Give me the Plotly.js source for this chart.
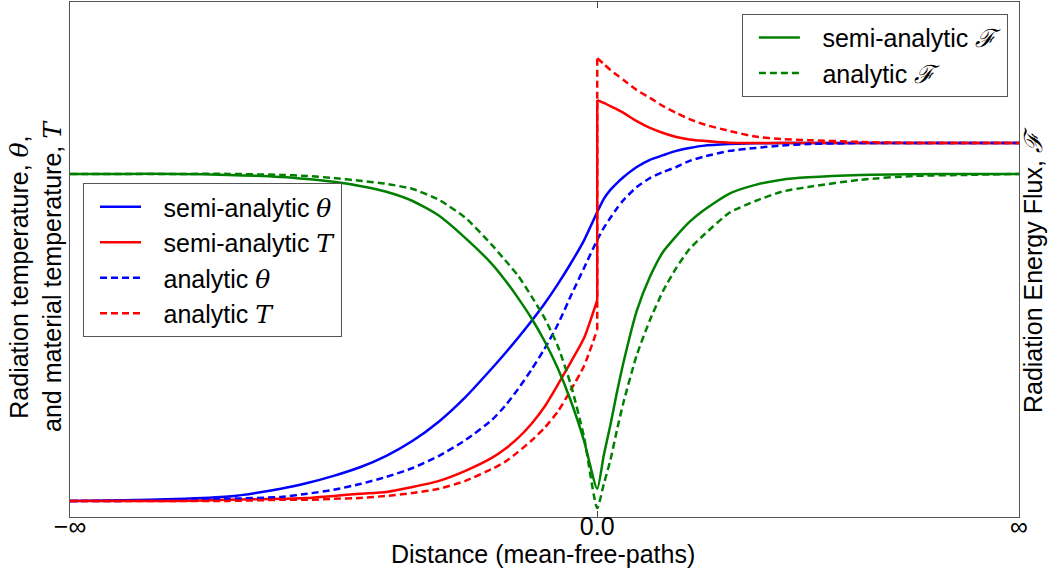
<!DOCTYPE html>
<html>
<head>
<meta charset="utf-8">
<script src="https://cdn.plot.ly/plotly-3.0.1.min.js"></script>
<style>html,body{margin:0;padding:0;background:#fff;}#chart{width:1053px;height:573px;}</style>
</head>
<body>
<div id="chart"></div>
<script>
// Distance grid (mean-free-paths); -5 and 4 are drawn as -inf and +inf
const xLeft  = [-5, -4.5, -4, -3.5, -3, -2.75, -2.5, -2.25, -2, -1.75, -1.5, -1.25, -1, -0.875, -0.75, -0.625, -0.5, -0.375, -0.25, -0.125, 0];
const xRight = [0, 0.0625, 0.125, 0.1875, 0.25, 0.375, 0.5, 0.625, 0.75, 0.875, 1, 1.25, 1.5, 1.75, 2, 2.5, 3, 3.5, 4];

// Radiation temperature theta (semi-analytic / analytic)
const thetaSemiLeft  = [1.000, 1.002, 1.005, 1.012, 1.034, 1.050, 1.070, 1.094, 1.126, 1.168, 1.222, 1.290, 1.370, 1.412, 1.456, 1.502, 1.551, 1.605, 1.664, 1.728, 1.807];
const thetaSemiRight = [1.807, 1.844, 1.869, 1.888, 1.905, 1.933, 1.953, 1.966, 1.978, 1.986, 1.992, 1.997, 1.999, 2.0, 2.0, 2.0, 2.0, 2.0, 2.0];
const thetaAnaLeft   = [1.000, 1.000, 1.003, 1.006, 1.011, 1.020, 1.031, 1.047, 1.067, 1.092, 1.126, 1.170, 1.226, 1.265, 1.313, 1.366, 1.425, 1.492, 1.573, 1.651, 1.729];
const thetaAnaRight  = [1.729, 1.763, 1.791, 1.818, 1.841, 1.877, 1.902, 1.919, 1.933, 1.950, 1.961, 1.978, 1.986, 1.993, 1.997, 2.0, 2.0, 2.0, 2.0];

// Material temperature T (jump at x = 0)
const tSemiLeft  = [1.000, 1.000, 1.000, 1.003, 1.006, 1.008, 1.014, 1.020, 1.025, 1.039, 1.056, 1.084, 1.120, 1.145, 1.176, 1.215, 1.263, 1.324, 1.388, 1.455, 1.561];
const tSemiRight = [2.120, 2.112, 2.103, 2.094, 2.084, 2.061, 2.042, 2.028, 2.017, 2.010, 2.006, 2.001, 2.0, 2.0, 2.0, 2.0, 2.0, 2.0, 2.0];
const tAnaLeft   = [1.000, 1.000, 1.000, 1.000, 1.003, 1.003, 1.006, 1.008, 1.014, 1.022, 1.034, 1.056, 1.089, 1.109, 1.137, 1.168, 1.204, 1.249, 1.310, 1.377, 1.478];
const tAnaRight  = [2.237, 2.221, 2.204, 2.190, 2.176, 2.148, 2.126, 2.103, 2.084, 2.067, 2.053, 2.034, 2.018, 2.011, 2.008, 2.003, 2.0, 2.0, 2.0];

// Radiation energy flux F (right axis)
const fluxSemiLeft  = [1.000, 1.000, 1.000, 0.997, 0.991, 0.985, 0.977, 0.965, 0.948, 0.921, 0.878, 0.813, 0.738, 0.691, 0.638, 0.580, 0.513, 0.434, 0.338, 0.222, 0.082];
const fluxSemiRight = [0.082, 0.181, 0.268, 0.364, 0.452, 0.601, 0.700, 0.773, 0.819, 0.860, 0.892, 0.942, 0.968, 0.983, 0.990, 0.997, 0.999, 1.0, 1.0];
const fluxAnaLeft   = [1.000, 1.000, 1.000, 1.000, 0.997, 0.994, 0.988, 0.980, 0.971, 0.956, 0.924, 0.872, 0.793, 0.749, 0.703, 0.644, 0.580, 0.499, 0.385, 0.233, 0.026];
const fluxAnaRight  = [0.026, 0.096, 0.166, 0.254, 0.335, 0.472, 0.574, 0.659, 0.726, 0.781, 0.819, 0.886, 0.921, 0.948, 0.962, 0.983, 0.994, 0.997, 1.0];

const xTickVals = [-5, 0, 4];
const xTickText = ["\u2212\u221E", "0.0", "\u221E"];

const FONT = "Liberation Sans, Arial, Helvetica, sans-serif";
const FS = 25;
const MATH = (s) => '<span style="font-family:\'DejaVu Serif\',serif"><i>' + s + '</i></span>';
const PAD = "\u2002\u2009";
const DASH = "7px,4px";
const BLUE = "#0000ff", RED = "#ff0000", GREEN = "#008000";

function base(name, x, y, color, dash, axis, legend, grp, show, shape) {
  return {
    x: x, y: y, type: "scatter", mode: "lines", name: name,
    line: {color: color, width: 2.5, dash: dash, shape: shape, smoothing: 0.6},
    yaxis: axis, legend: legend, legendgroup: grp, showlegend: show, hoverinfo: "skip"
  };
}
// continuous curve: join the halves (drop the repeated x = 0 point)
function cont(name, yl, yr, color, dash, axis, legend, grp) {
  return [base(name, xLeft.concat(xRight.slice(1)), yl.concat(yr.slice(1)), color, dash, axis, legend, grp, true, "spline")];
}
// curve with a jump at x = 0: left half, vertical jump, right half
function jump(name, yl, yr, color, dash, axis, legend, grp) {
  return [
    base(name, xLeft, yl, color, dash, axis, legend, grp, true, "spline"),
    base(name, [xLeft[xLeft.length - 1], xRight[0]], [yl[yl.length - 1], yr[0]], color, dash, axis, legend, grp, false, "linear"),
    base(name, xRight, yr, color, dash, axis, legend, grp, false, "spline")
  ];
}

const data = [].concat(
  cont(PAD + "semi-analytic " + MATH("θ"), thetaSemiLeft, thetaSemiRight, BLUE, "solid", "y", "legend", "a"),
  jump(PAD + "semi-analytic " + MATH("T"), tSemiLeft, tSemiRight, RED, "solid", "y", "legend", "b"),
  cont(PAD + "analytic " + MATH("θ"), thetaAnaLeft, thetaAnaRight, BLUE, DASH, "y", "legend", "c"),
  jump(PAD + "analytic " + MATH("T"), tAnaLeft, tAnaRight, RED, DASH, "y", "legend", "d"),
  cont(PAD + "semi-analytic " + MATH("ℱ"), fluxSemiLeft, fluxSemiRight, GREEN, "solid", "y2", "legend2", "e"),
  cont(PAD + "analytic " + MATH("ℱ"), fluxAnaLeft, fluxAnaRight, GREEN, DASH, "y2", "legend2", "f")
);

const xTitle = "Distance (mean-free-paths)";
const yTitle = "Radiation temperature, " + MATH("θ") + ",<br>and material temperature, " + MATH("T");
const y2Title = "Radiation Energy Flux, " + MATH("ℱ");

const layout = {
  width: 1053, height: 573,
  margin: {l: 70, r: 34, t: 2, b: 56},
  paper_bgcolor: "#fff", plot_bgcolor: "#fff",
  font: {family: FONT, size: FS, color: "#000"},
  showlegend: true,
  xaxis: {
    range: [-5, 4], tickvals: xTickVals, ticktext: xTickText,
    ticks: "inside", ticklen: 6, tickcolor: "#444", tickwidth: 1,
    ticklabelstandoff: -13,
    showgrid: false, zeroline: false, showline: true, mirror: "ticks",
    linecolor: "#555", linewidth: 1.3,
    tickfont: {family: FONT, size: FS}
  },
  yaxis: {
    range: [0.955, 2.394], showticklabels: false, ticks: "",
    showgrid: false, zeroline: false, showline: true, mirror: true,
    linecolor: "#555", linewidth: 1.3
  },
  yaxis2: {
    range: [0, 1.501], overlaying: "y", side: "right",
    showticklabels: false, ticks: "", showgrid: false, zeroline: false,
    showline: false
  },
  annotations: [
    {text: xTitle, xref: "paper", yref: "paper", x: 0.498, y: -0.0718,
     xanchor: "center", yanchor: "middle", showarrow: false, font: {family: FONT, size: FS}},
    {text: yTitle, xref: "paper", yref: "paper", x: -0.0358, y: 0.468, textangle: -90,
     xanchor: "center", yanchor: "middle", showarrow: false, font: {family: FONT, size: FS}},
    {text: y2Title, xref: "paper", yref: "paper", x: 1.0148, y: 0.4796, textangle: -90,
     xanchor: "center", yanchor: "middle", showarrow: false, font: {family: FONT, size: FS}}
  ],
  legend: {
    x: 0.0137, y: 0.6485, xanchor: "left", yanchor: "top",
    bgcolor: "#fff", bordercolor: "#555", borderwidth: 1,
    font: {family: FONT, size: FS}, traceorder: "grouped", tracegroupgap: 0,
    itemwidth: 41, indentation: 11
  },
  legend2: {
    x: 0.708, y: 0.977, xanchor: "left", yanchor: "top",
    bgcolor: "#fff", bordercolor: "#555", borderwidth: 1,
    font: {family: FONT, size: FS}, traceorder: "grouped", tracegroupgap: 0,
    itemwidth: 41, indentation: 11
  }
};

Plotly.newPlot("chart", data, layout, {staticPlot: true, displayModeBar: false});
</script>
</body>
</html>
